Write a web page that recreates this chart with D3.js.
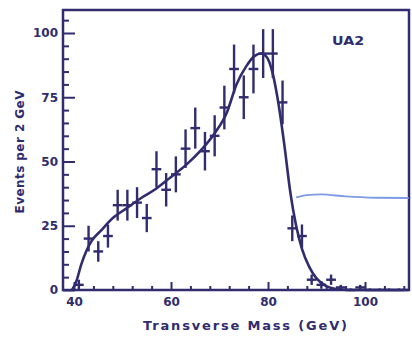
<!DOCTYPE html>
<html lang="en">
<head>
    <meta charset="UTF-8">
    <title>UA2 Transverse Mass</title>
    <script src="https://cdnjs.cloudflare.com/ajax/libs/d3/7.8.5/d3.min.js"></script>
    <style>
        body {
            margin: 0;
            background: #fff;
        }
        svg {
            display: block;
            font-family: "DejaVu Sans", sans-serif;
            font-weight: bold;
        }
    </style>
</head>
<body>
    <div id="wrapper"></div>
    <script>
        // data (2 GeV bins)
        const massBins = [41, 43, 45, 47, 49, 51, 53, 55, 57, 59, 61, 63, 65, 67, 69, 71, 73, 75, 77, 79, 81, 83, 85, 87, 89, 91, 93, 95, 97, 99, 101, 103, 105, 107]
        const eventCounts = [2, 20, 15, 21, 33, 33, 34, 28, 47, 39, 45, 55, 63, 54, 60, 71, 86, 75, 86, 92, 92, 73, 24, 21, 4, 2, 4, 1, 0, 1, 0, 0, 0, 0]
        const eventErrors = [2, 5, 4, 4.5, 6, 6, 6, 5.5, 7, 6.5, 7, 7.5, 8, 7.5, 8, 8.5, 9.5, 8.5, 9.5, 9.5, 9.5, 8.5, 5, 4.5, 2, 1.5, 2, 1, 0.6, 1, 0.6, 0.6, 0.6, 0.6]

        // fitted curve
        const fitMass = [39.6, 40.5, 41.5, 42.5, 43.6, 45.5, 48, 51, 54, 57, 60, 63, 66, 69, 71.5, 73.5, 75.5, 77.2, 78.6, 79.8, 81, 82.2, 83.4, 84.6, 85.8, 87, 88.5, 90, 92, 94, 97, 109]
        const fitEvents = [0, 3.5, 10, 15, 19, 23, 28, 32, 36, 39.5, 44, 48.5, 54, 61, 69, 80, 87, 91, 92, 90.5, 84, 72, 56, 38, 25, 16, 9, 4.5, 1.5, 0.4, 0, 0]

        // stray blue pen line on the scan
        const strayMass = [85.8, 88, 91, 96, 102, 109]
        const strayEvents = [36.0, 36.9, 37.2, 36.4, 35.9, 35.8]

        const xMajorTicks = [40, 60, 80, 100]
        const xMinorTicks = [44, 48, 52, 56, 64, 68, 72, 76, 84, 88, 92, 96, 104, 108]
        const yMajorTicks = [0, 25, 50, 75, 100]
        const yMinorTicks = [5, 10, 15, 20, 30, 35, 40, 45, 55, 60, 65, 70, 80, 85, 90, 95, 105]

        const ink = '#302c6e'

        function drawChart() {
            const dimensions = {
                width: 412,
                height: 337,
                margin: { top: 10, right: 3, bottom: 47, left: 63 }
            }
            dimensions.boundedWidth = dimensions.width - dimensions.margin.left - dimensions.margin.right
            dimensions.boundedHeight = dimensions.height - dimensions.margin.top - dimensions.margin.bottom

            const wrapper = d3.select('#wrapper')
                .append('svg')
                    .attr('width', dimensions.width)
                    .attr('height', dimensions.height)

            const bounds = wrapper.append('g')
                .attr('transform', `translate(${dimensions.margin.left},${dimensions.margin.top})`)

            // scales
            const xScale = d3.scaleLinear()
                .domain([37.73, 109.07])
                .range([0, dimensions.boundedWidth])

            const yScale = d3.scaleLinear()
                .domain([0, 108.95])
                .range([dimensions.boundedHeight, 0])

            // axes (ticks point inward)
            const styleAxis = g => {
                g.select('.domain').remove()
                g.selectAll('line').attr('stroke', ink).attr('stroke-width', 2)
                g.selectAll('text')
                    .attr('fill', ink)
                    .style('font-size', '12px')
                    .style('font-family', '"DejaVu Sans", sans-serif')
                    .style('font-weight', 'bold')
            }

            bounds.append('g')
                .attr('transform', `translate(0,${dimensions.boundedHeight})`)
                .call(d3.axisBottom(xScale).tickValues(xMinorTicks).tickSize(-4).tickFormat(''))
                .call(styleAxis)

            bounds.append('g')
                .attr('transform', `translate(0,${dimensions.boundedHeight})`)
                .call(d3.axisBottom(xScale).tickValues(xMajorTicks).tickSize(-8).tickPadding(7).tickFormat(d3.format('d')))
                .call(styleAxis)

            bounds.append('g')
                .call(d3.axisLeft(yScale).tickValues(yMinorTicks).tickSize(-6).tickFormat(''))
                .call(styleAxis)

            bounds.append('g')
                .call(d3.axisLeft(yScale).tickValues(yMajorTicks).tickSize(-12).tickPadding(5).tickFormat(d3.format('d')))
                .call(styleAxis)

            // frame
            bounds.append('rect')
                .attr('x', 0)
                .attr('y', 0)
                .attr('width', dimensions.boundedWidth)
                .attr('height', dimensions.boundedHeight)
                .attr('fill', 'none')
                .attr('stroke', ink)
                .attr('stroke-width', 2.5)

            // stray blue line
            const strayLine = d3.line()
                .x((d, i) => xScale(strayMass[i]))
                .y(d => yScale(d))
                .curve(d3.curveMonotoneX)
            bounds.append('path')
                .attr('d', strayLine(strayEvents))
                .attr('fill', 'none')
                .attr('stroke', '#7f9be6')
                .attr('stroke-width', 1.8)

            // fit curve
            const fitLine = d3.line()
                .x((d, i) => xScale(fitMass[i]))
                .y(d => yScale(d))
                .curve(d3.curveMonotoneX)
            bounds.append('path')
                .attr('d', fitLine(fitEvents))
                .attr('fill', 'none')
                .attr('stroke', ink)
                .attr('stroke-width', 2.6)

            // data points with error bars
            const points = bounds.append('g')
                .selectAll('g')
                .data(massBins)
                .join('g')
                .attr('stroke', ink)
                .attr('stroke-width', 2.4)

            points.append('line')
                .attr('x1', d => xScale(d - 1))
                .attr('x2', d => xScale(d + 1))
                .attr('y1', (d, i) => yScale(eventCounts[i]))
                .attr('y2', (d, i) => yScale(eventCounts[i]))

            points.append('line')
                .attr('x1', d => xScale(d))
                .attr('x2', d => xScale(d))
                .attr('y1', (d, i) => yScale(eventCounts[i] + eventErrors[i]))
                .attr('y2', (d, i) => yScale(Math.max(0, eventCounts[i] - eventErrors[i])))

            // labels
            bounds.append('text')
                .attr('x', dimensions.boundedWidth / 2 + 9)
                .attr('y', dimensions.height - dimensions.margin.top - 7)
                .attr('text-anchor', 'middle')
                .attr('textLength', 204)
                .attr('lengthAdjust', 'spacing')
                .attr('fill', ink)
                .style('font-size', '13px')
                .text('Transverse Mass (GeV)')

            wrapper.append('text')
                .attr('transform', 'translate(24,152) rotate(-90)')
                .attr('text-anchor', 'middle')
                .attr('textLength', 123)
                .attr('lengthAdjust', 'spacing')
                .attr('fill', ink)
                .style('font-size', '12px')
                .text('Events per 2 GeV')

            bounds.append('text')
                .attr('x', xScale(96.5))
                .attr('y', yScale(95.5))
                .attr('text-anchor', 'middle')
                .attr('textLength', 32)
                .attr('lengthAdjust', 'spacingAndGlyphs')
                .attr('fill', ink)
                .style('font-size', '13px')
                .text('UA2')
        }

        drawChart()
    </script>
</body>
</html>
